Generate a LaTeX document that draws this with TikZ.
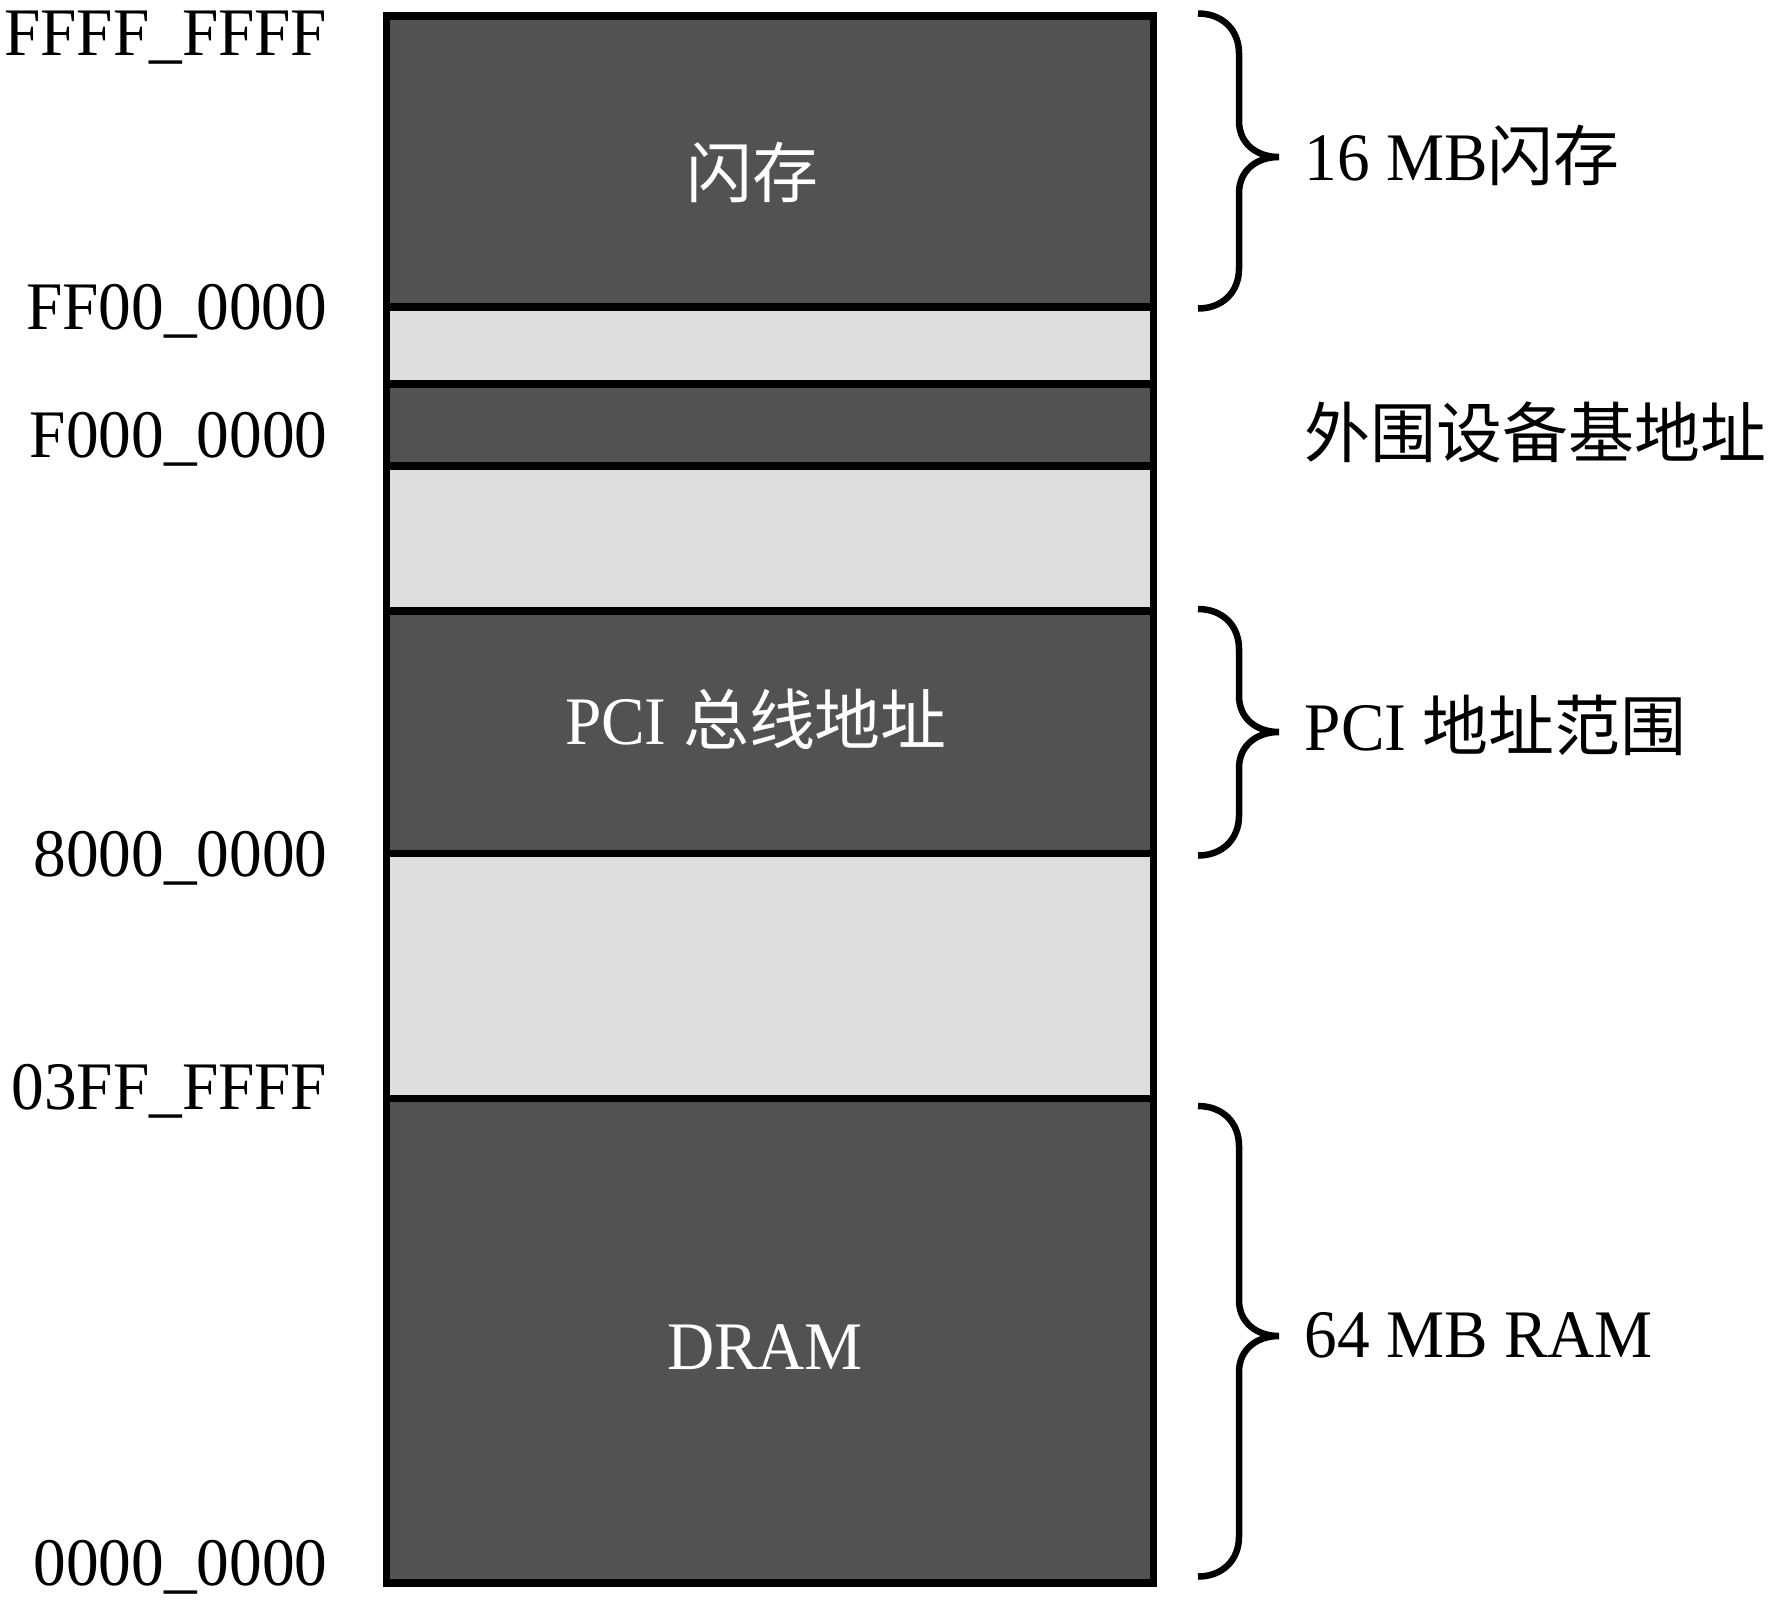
\documentclass[tikz,border=0pt]{standalone}
\usepackage{fontspec}
\setmainfont{Liberation Serif}[FakeStretch=0.96]
\newfontfamily\cjk{Noto Sans CJK SC}[Scale=0.97]
\definecolor{bandDark}{HTML}{525252}
\definecolor{bandLight}{HTML}{DEDEDE}
\newcommand\membrace[3]{%
  \draw[bracestyle] (1198,#1) .. controls (1222,#1) and (1239,{#1+16}) .. (1239,{#1+40})
    -- (1239,{#2-36}) .. controls (1239,{#2-14}) and (1256,#2) .. (1279,#2)
    .. controls (1256,#2) and (1239,{#2+14}) .. (1239,{#2+36})
    -- (1239,{#3-40}) .. controls (1239,{#3-16}) and (1222,#3) .. (1198,#3);}
\tikzset{
  bandline/.style={draw=black, line width=0.75mm, line join=miter},
  darkband/.style={bandline, fill=bandDark},
  lightband/.style={bandline, fill=bandLight},
  bracestyle/.style={draw=black, line width=0.65mm, line cap=butt},
  addr/.style={inner sep=0pt, anchor=base east},
  rlabel/.style={inner sep=0pt, anchor=base west},
  inlabel/.style={inner sep=0pt, anchor=base, text=white},
}
\begin{document}
\begin{tikzpicture}[x=0.1mm, y=-0.1mm, font=\fontsize{19.35pt}{23pt}\selectfont]
\useasboundingbox (0,0) rectangle (1771,1606);
% memory bands
\path[darkband]  (386.5,16)    rectangle (1153.5,307);
\path[lightband] (386.5,307)   rectangle (1153.5,384);
\path[darkband]  (386.5,384)   rectangle (1153.5,466);
\path[lightband] (386.5,466)   rectangle (1153.5,611);
\path[darkband]  (386.5,611)   rectangle (1153.5,853.5);
\path[lightband] (386.5,853.5) rectangle (1153.5,1098.5);
\path[darkband]  (386.5,1098.5) rectangle (1153.5,1583);
% inner labels
\node[inlabel] (flash) at (752,197) {\cjk 闪存};
\node[inlabel] (pci) at (756,744) {PCI {\cjk 总线地址}};
\node[inlabel] (dram) at (765,1369) {DRAM};
% address labels
\node[addr] (a1) at (328,55) {FFFF\_FFFF};
\node[addr] (a2) at (328,329) {FF00\_0000};
\node[addr] (a3) at (328,457) {F000\_0000};
\node[addr] (a4) at (328,876) {8000\_0000};
\node[addr] (a5) at (328,1109) {03FF\_FFFF};
\node[addr] (a6) at (328,1585) {0000\_0000};
% braces
\membrace{13.5}{157}{308.5}
\membrace{609}{732}{855.5}
\membrace{1106}{1336}{1576.5}
% right labels
\node[rlabel] (r1) at (1304,180) {16 MB{\cjk 闪存}};
\node[rlabel] (r2) at (1304,457) {\cjk 外围设备基地址};
\node[rlabel] (r3) at (1304,750) {PCI {\cjk 地址范围}};
\node[rlabel] (r4) at (1304,1357) {64 MB RAM};
\end{tikzpicture}
\end{document}
